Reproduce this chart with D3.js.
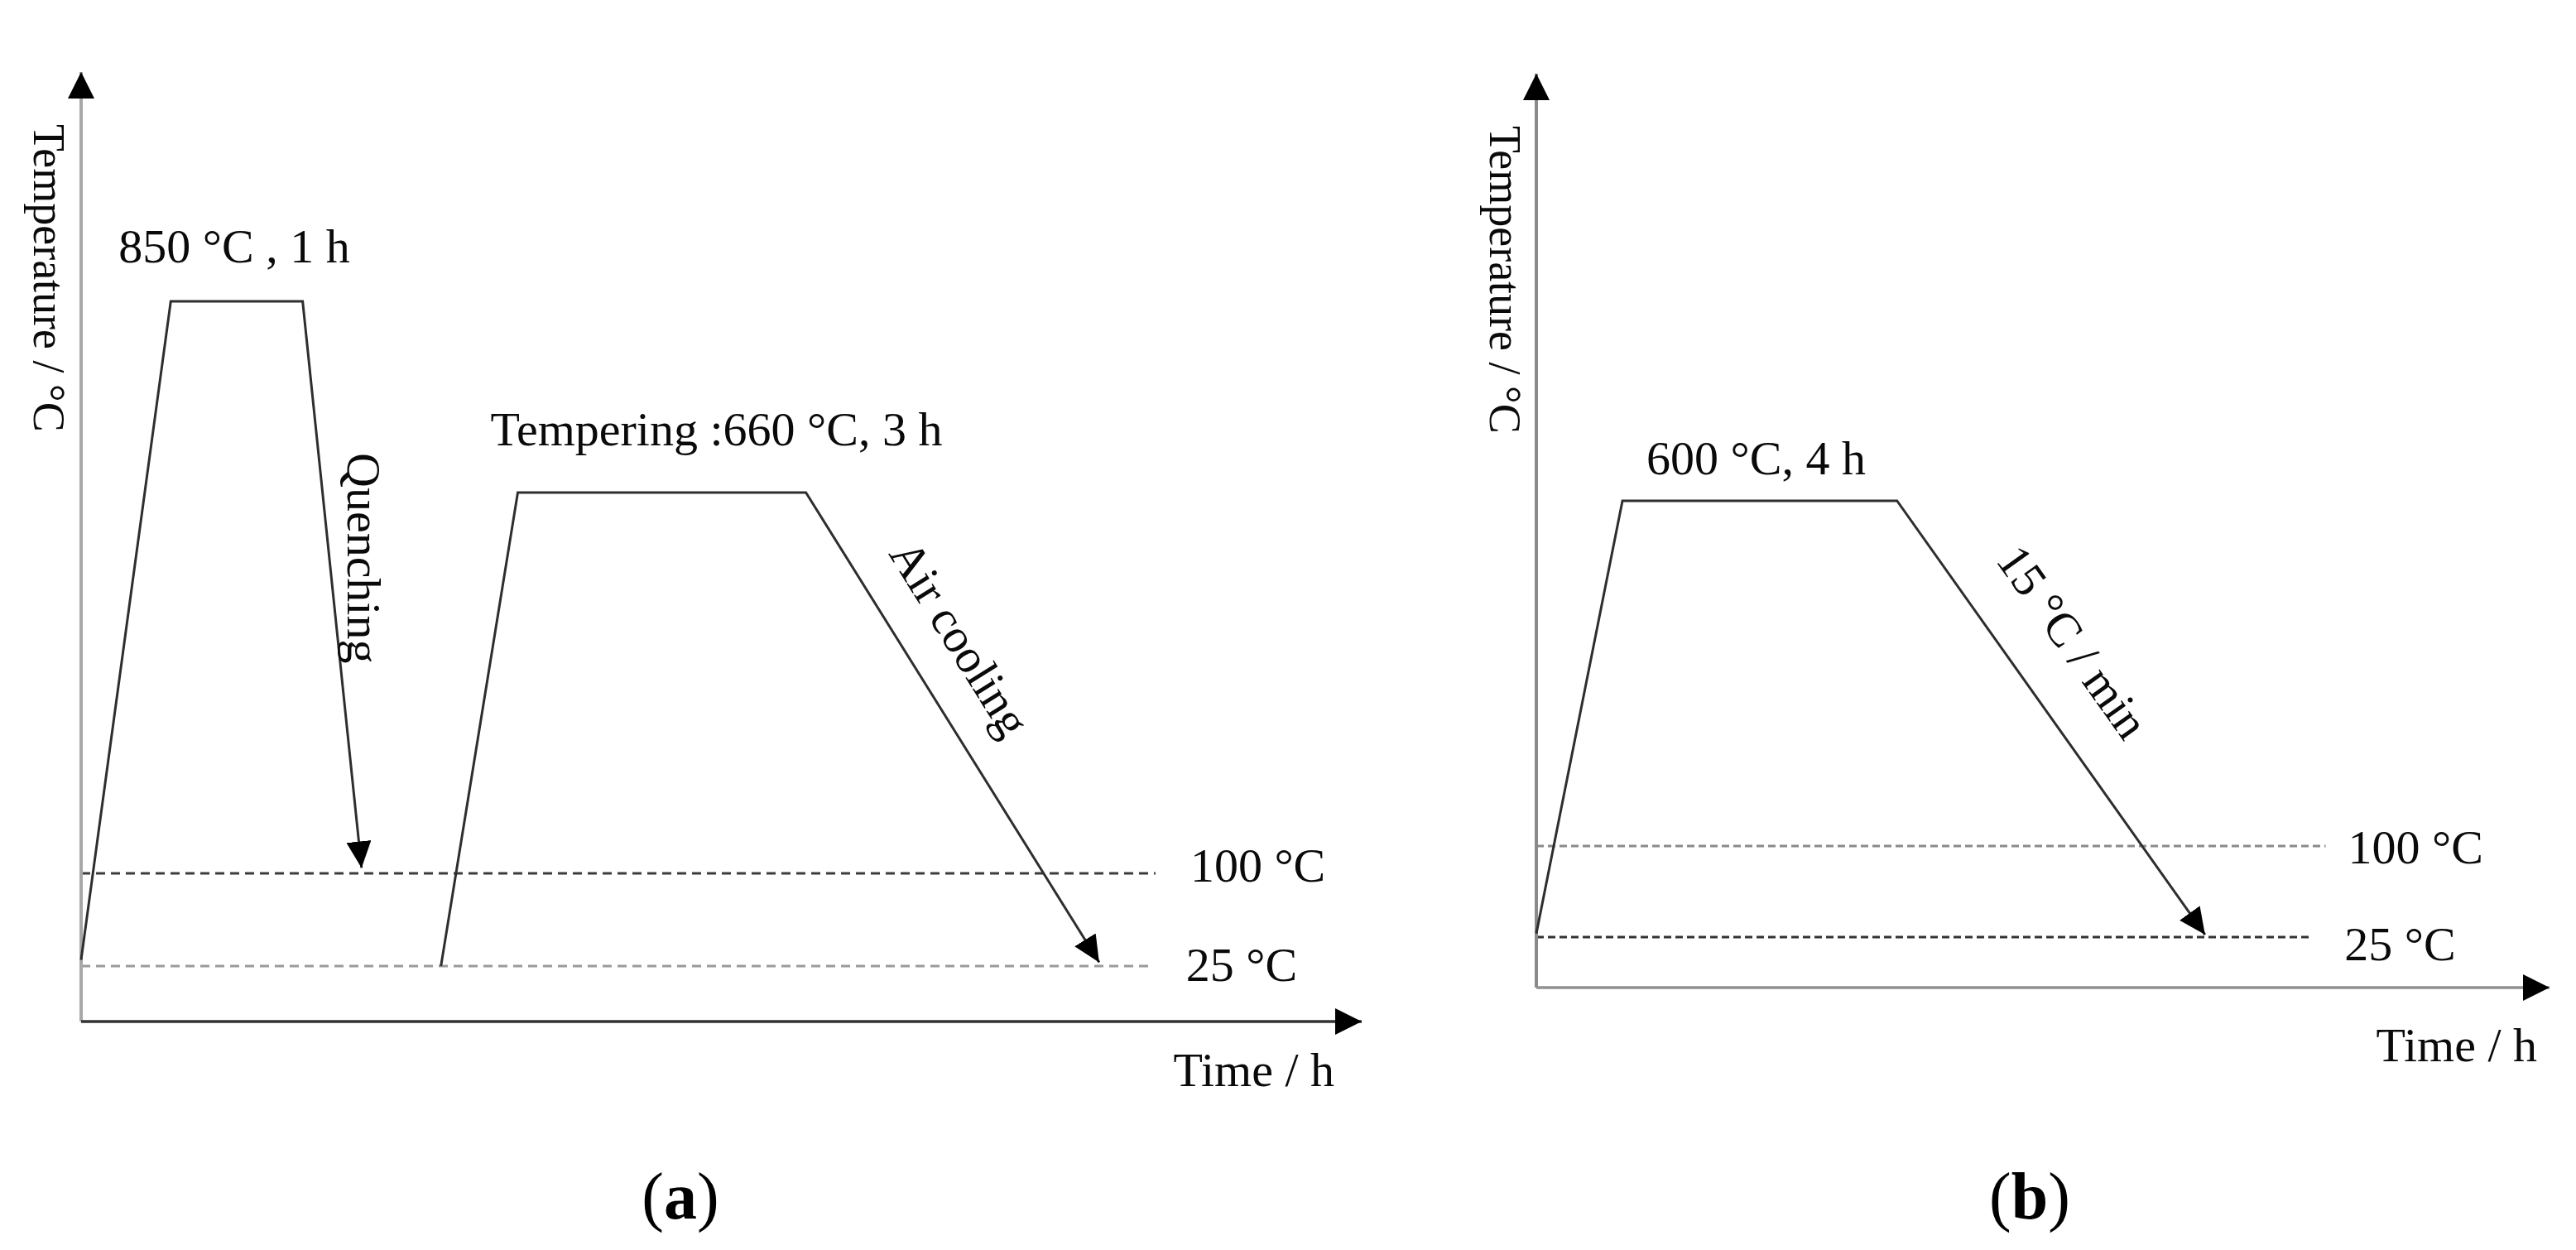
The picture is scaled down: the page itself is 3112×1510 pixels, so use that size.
<!DOCTYPE html>
<html>
<head>
<meta charset="utf-8">
<script src="https://cdn.jsdelivr.net/npm/d3@7"></script>
<style>
  html, body { margin: 0; padding: 0; background: #ffffff; }
  svg { display: block; }
</style>
</head>
<body>
<svg id="chart" width="3112" height="1510"></svg>
<script>
// ---------------- data (schematic values) ----------------
// Panel (a): quenching cycle
const timeA1 = [0, 0.70, 1.73, 2.19];          // schematic time units
const tempA1 = [30, 850, 850, 108];             // °C
// Panel (a): tempering cycle
const timeA2 = [2.81, 3.41, 5.66, 7.95];
const tempA2 = [25, 660, 660, 28];
// Panel (b): single treatment
const timeB = [0, 0.85, 3.56, 6.60];
const tempB = [28, 600, 600, 27];
// reference (dashed) temperatures
const refTemps = [100, 25];
const refEndA = [8.39, 8.37];
const refEndB = [7.79, 7.65];
const refLabels = ["100 °C", "25 °C"];
// texts
const holdLabelA1 = "850 °C , 1 h";
const holdLabelA2 = "Tempering :660 °C, 3 h";
const holdLabelB = "600 °C, 4 h";
const coolLabelA1 = "Quenching";
const coolLabelA2 = "Air cooling";
const coolLabelB = "15 °C / min";
const axisLabelY = "Temperature / °C";
const axisLabelX = "Time / h";
const panelLetters = ["a", "b"];

// ---------------- scales (schematic, not to scale) ----------------
const xA = d3.scaleLinear().domain([0, 10]).range([98, 1645]);
const yA = d3.scaleLinear().domain([0, 25, 100, 660, 850, 1000]).range([1234, 1167, 1055, 595, 364, 87]);
const xB = d3.scaleLinear().domain([0, 10]).range([1856, 3080]);
const yB = d3.scaleLinear().domain([0, 25, 100, 600, 1000]).range([1193, 1132, 1022, 605, 89]);

const FONT = "'Liberation Serif', 'Times New Roman', Times, serif";
const svg = d3.select("#chart");
svg.append("rect").attr("width", 3112).attr("height", 1510).attr("fill", "#fff");

// arrow markers
const defs = svg.append("defs");
function addMarker(id, len, wid) {
  defs.append("marker")
    .attr("id", id)
    .attr("markerUnits", "userSpaceOnUse")
    .attr("viewBox", `0 0 ${len} ${wid}`)
    .attr("refX", len).attr("refY", wid / 2)
    .attr("markerWidth", len).attr("markerHeight", wid)
    .attr("orient", "auto")
    .append("path")
    .attr("d", `M0,0L${len},${wid / 2}L0,${wid}Z`)
    .attr("fill", "#000");
}
addMarker("axisArrow", 32, 32);
addMarker("lineArrow", 32, 30);

const lineGen = (x, y) => d3.line().x(d => x(d[0])).y(d => y(d[1]));

function drawPanel(cfg) {
  const { x, y, g } = cfg;
  const x0 = x.domain()[0], x1 = x.domain()[1];
  const yDom = y.domain();
  const tMin = yDom[0], tMax = yDom[yDom.length - 1];

  // dashed reference lines
  refTemps.forEach((t, i) => {
    g.append("path")
      .attr("d", lineGen(x, y)([[x0, t], [cfg.refEnd[i], t]]))
      .attr("fill", "none")
      .attr("stroke", cfg.refColors[i])
      .attr("stroke-width", 3)
      .attr("stroke-dasharray", cfg.dash);
    g.append("text")
      .attr("x", x(cfg.refEnd[i]) + cfg.refLabelDx[i])
      .attr("y", y(t) + cfg.refLabelDy[i])
      .attr("font-family", FONT).attr("font-size", 58).attr("fill", "#0a0a0a")
      .text(refLabels[i]);
  });

  // axes
  g.append("path")
    .attr("d", lineGen(x, y)([[x0, tMin], [x0, tMax]]))
    .attr("stroke", cfg.yAxisColor).attr("stroke-width", 4).attr("fill", "none")
    .attr("marker-end", "url(#axisArrow)");
  g.append("path")
    .attr("d", lineGen(x, y)([[x0, tMin], [x1, tMin]]))
    .attr("stroke", cfg.xAxisColor).attr("stroke-width", 3.5).attr("fill", "none")
    .attr("marker-end", "url(#axisArrow)");

  // axis titles
  g.append("text")
    .attr("transform", `translate(${x(x0) + cfg.yTitleDx},${cfg.yTitleY}) rotate(90)`)
    .attr("font-family", FONT).attr("font-size", 54).attr("fill", "#0a0a0a")
    .text(axisLabelY);
  g.append("text")
    .attr("x", x(x1) + cfg.xTitleDx).attr("y", y(tMin) + cfg.xTitleDy)
    .attr("text-anchor", "end")
    .attr("font-family", FONT).attr("font-size", 58).attr("fill", "#0a0a0a")
    .text(axisLabelX);

  // profiles
  cfg.profiles.forEach(p => {
    const pts = p.time.map((t, i) => [t, p.temp[i]]);
    g.append("path")
      .attr("d", lineGen(x, y)(pts))
      .attr("fill", "none")
      .attr("stroke", "#2e2e2e")
      .attr("stroke-width", 3)
      .attr("stroke-linejoin", "miter")
      .attr("marker-end", "url(#lineArrow)");

    // hold label, relative to start of plateau
    g.append("text")
      .attr("x", x(p.time[1]) + p.holdDx)
      .attr("y", y(p.temp[1]) + p.holdDy)
      .attr("font-family", FONT).attr("font-size", 58).attr("fill", "#0a0a0a")
      .text(p.holdLabel);

    // cooling label
    const ax = x(p.time[2]), ay = y(p.temp[2]);
    const bx = x(p.time[3]), by = y(p.temp[3]);
    if (p.coolMode === "vertical") {
      g.append("text")
        .attr("transform", `translate(${ax + p.coolDx},${ay + p.coolDy}) rotate(90)`)
        .attr("font-family", FONT).attr("font-size", 58).attr("fill", "#0a0a0a")
        .text(p.coolLabel);
    } else {
      const th = Math.atan2(by - ay, bx - ax);
      const ux = Math.cos(th), uy = Math.sin(th);
      const nx = Math.sin(th), ny = -Math.cos(th);
      const px = ax + ux * p.along + nx * p.perp;
      const py = ay + uy * p.along + ny * p.perp;
      g.append("text")
        .attr("transform", `translate(${px},${py}) rotate(${th * 180 / Math.PI})`)
        .attr("font-family", FONT).attr("font-size", 58).attr("fill", "#0a0a0a")
        .text(p.coolLabel);
    }
  });

  // caption
  const cap = g.append("text")
    .attr("x", cfg.captionX).attr("y", 1472)
    .attr("text-anchor", "middle")
    .attr("font-family", FONT).attr("font-size", 80).attr("fill", "#000");
  cap.append("tspan").text("(");
  cap.append("tspan").attr("font-weight", "bold").text(cfg.letter);
  cap.append("tspan").text(")");
}

drawPanel({
  x: xA, y: yA, g: svg.append("g"),
  refEnd: refEndA,
  refColors: ["#3c3c3c", "#9a9a9a"],
  dash: "11,7",
  refLabelDx: [42, 40],
  refLabelDy: [10, 18],
  yAxisColor: "#a8a8a8", xAxisColor: "#333",
  yTitleDx: -57, yTitleY: 150,
  xTitleDx: -33, xTitleDy: 78,
  captionX: 822, letter: panelLetters[0],
  profiles: [
    { time: timeA1, temp: tempA1, holdLabel: holdLabelA1, holdDx: -63, holdDy: -47,
      coolLabel: coolLabelA1, coolMode: "vertical", coolDx: 54, coolDy: 183 },
    { time: timeA2, temp: tempA2, holdLabel: holdLabelA2, holdDx: -33, holdDy: -57,
      coolLabel: coolLabelA2, coolMode: "slope", along: 115, perp: 45 }
  ]
});

drawPanel({
  x: xB, y: yB, g: svg.append("g"),
  refEnd: refEndB,
  refColors: ["#8a8a8a", "#333"],
  dash: "9,5",
  refLabelDx: [27, 40],
  refLabelDy: [21, 28],
  yAxisColor: "#8a8a8a", xAxisColor: "#909090",
  yTitleDx: -56, yTitleY: 152,
  xTitleDx: -15, xTitleDy: 89,
  captionX: 2452, letter: panelLetters[1],
  profiles: [
    { time: timeB, temp: tempB, holdLabel: holdLabelB, holdDx: 29, holdDy: -32,
      coolLabel: coolLabelB, coolMode: "slope", along: 127, perp: 55 }
  ]
});
</script>
</body>
</html>
